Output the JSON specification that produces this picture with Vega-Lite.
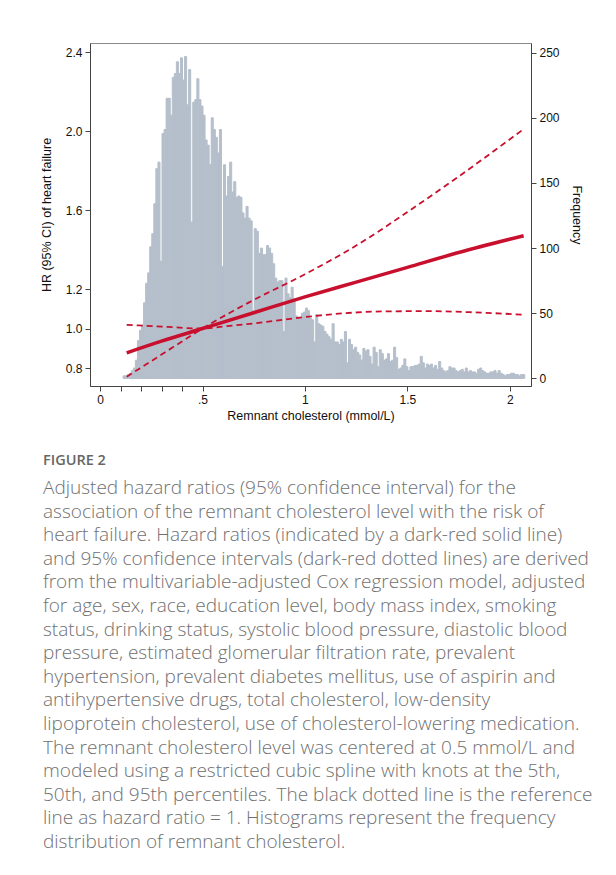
{
  "$schema": "https://vega.github.io/schema/vega-lite/v6.json",
  "width": 441,
  "height": 343,
  "autosize": {"type": "none"},
  "padding": {"left": 90, "top": 43, "right": 85, "bottom": 489},
  "background": "white",
  "config": {
    "font": "Liberation Sans",
    "view": {"stroke": "#8a8a8a", "strokeWidth": 1},
    "axis": {
      "labelFont": "Liberation Sans",
      "titleFont": "Liberation Sans",
      "labelFontSize": 12,
      "titleFontSize": 12.5,
      "titleFontWeight": "normal",
      "labelColor": "#111",
      "titleColor": "#111",
      "domainColor": "#444",
      "tickColor": "#444",
      "grid": false,
      "tickSize": 5
    }
  },
  "title": {
    "text": "FIGURE 2",
    "subtitle": [
      "Adjusted hazard ratios (95% confidence interval) for the",
      "association of the remnant cholesterol level with the risk of",
      "heart failure. Hazard ratios (indicated by a dark-red solid line)",
      "and 95% confidence intervals (dark-red dotted lines) are derived",
      "from the multivariable-adjusted Cox regression model, adjusted",
      "for age, sex, race, education level, body mass index, smoking",
      "status, drinking status, systolic blood pressure, diastolic blood",
      "pressure, estimated glomerular filtration rate, prevalent",
      "hypertension, prevalent diabetes mellitus, use of aspirin and",
      "antihypertensive drugs, total cholesterol, low-density",
      "lipoprotein cholesterol, use of cholesterol-lowering medication.",
      "The remnant cholesterol level was centered at 0.5 mmol/L and",
      "modeled using a restricted cubic spline with knots at the 5th,",
      "50th, and 95th percentiles. The black dotted line is the reference",
      "line as hazard ratio = 1. Histograms represent the frequency",
      "distribution of remnant cholesterol."
    ],
    "orient": "bottom",
    "anchor": "start",
    "frame": "group",
    "dx": -47,
    "offset": 32,
    "font": "Open Sans",
    "fontSize": 14.5,
    "fontWeight": 600,
    "color": "#666666",
    "subtitleFont": "Open Sans",
    "subtitleFontSize": 19,
    "subtitleFontWeight": 300,
    "subtitleColor": "#707070",
    "subtitleLineHeight": 23.6,
    "subtitlePadding": 11
  },
  "datasets": {
    "hist": [
      {"lo":0.11,"hi":0.12,"n":2},{"lo":0.12,"hi":0.13,"n":2},{"lo":0.13,"hi":0.14,"n":3},{"lo":0.14,"hi":0.15,"n":4},{"lo":0.15,"hi":0.16,"n":6},
      {"lo":0.16,"hi":0.17,"n":8},{"lo":0.17,"hi":0.18,"n":14},{"lo":0.18,"hi":0.19,"n":29},{"lo":0.19,"hi":0.2,"n":37},{"lo":0.2,"hi":0.21,"n":41},
      {"lo":0.21,"hi":0.22,"n":58},{"lo":0.22,"hi":0.23,"n":73},{"lo":0.23,"hi":0.24,"n":81},{"lo":0.24,"hi":0.25,"n":101},{"lo":0.25,"hi":0.26,"n":111},
      {"lo":0.26,"hi":0.27,"n":134},{"lo":0.27,"hi":0.28,"n":161},{"lo":0.28,"hi":0.29,"n":166},{"lo":0.29,"hi":0.3,"n":90},{"lo":0.3,"hi":0.31,"n":188},
      {"lo":0.31,"hi":0.32,"n":191},{"lo":0.32,"hi":0.33,"n":215},{"lo":0.33,"hi":0.34,"n":215},{"lo":0.34,"hi":0.35,"n":202},{"lo":0.35,"hi":0.36,"n":231},
      {"lo":0.36,"hi":0.37,"n":234},{"lo":0.37,"hi":0.38,"n":243},{"lo":0.38,"hi":0.39,"n":234},{"lo":0.39,"hi":0.4,"n":246},{"lo":0.4,"hi":0.41,"n":229},
      {"lo":0.41,"hi":0.42,"n":247},{"lo":0.42,"hi":0.43,"n":210},{"lo":0.43,"hi":0.44,"n":237},{"lo":0.44,"hi":0.45,"n":120},{"lo":0.45,"hi":0.46,"n":212},
      {"lo":0.46,"hi":0.47,"n":214},{"lo":0.47,"hi":0.48,"n":230},{"lo":0.48,"hi":0.49,"n":214},{"lo":0.49,"hi":0.5,"n":209},{"lo":0.5,"hi":0.51,"n":202},
      {"lo":0.51,"hi":0.52,"n":183},{"lo":0.52,"hi":0.53,"n":179},{"lo":0.53,"hi":0.54,"n":164},{"lo":0.54,"hi":0.55,"n":200},{"lo":0.55,"hi":0.56,"n":191},
      {"lo":0.56,"hi":0.57,"n":185},{"lo":0.57,"hi":0.58,"n":173},{"lo":0.58,"hi":0.59,"n":191},{"lo":0.59,"hi":0.6,"n":86},{"lo":0.6,"hi":0.61,"n":164},
      {"lo":0.61,"hi":0.62,"n":140},{"lo":0.62,"hi":0.63,"n":155},{"lo":0.63,"hi":0.64,"n":166},{"lo":0.64,"hi":0.65,"n":143},{"lo":0.65,"hi":0.66,"n":151},
      {"lo":0.66,"hi":0.67,"n":139},{"lo":0.67,"hi":0.68,"n":140},{"lo":0.68,"hi":0.69,"n":139},{"lo":0.69,"hi":0.7,"n":127},{"lo":0.7,"hi":0.71,"n":123},
      {"lo":0.71,"hi":0.72,"n":132},{"lo":0.72,"hi":0.73,"n":123},{"lo":0.73,"hi":0.74,"n":121},{"lo":0.74,"hi":0.75,"n":52},{"lo":0.75,"hi":0.76,"n":115},
      {"lo":0.76,"hi":0.77,"n":113},{"lo":0.77,"hi":0.78,"n":96},{"lo":0.78,"hi":0.79,"n":100},{"lo":0.79,"hi":0.8,"n":95},{"lo":0.8,"hi":0.81,"n":95},
      {"lo":0.81,"hi":0.82,"n":102},{"lo":0.82,"hi":0.83,"n":100},{"lo":0.83,"hi":0.84,"n":96},{"lo":0.84,"hi":0.85,"n":88},{"lo":0.85,"hi":0.86,"n":77},
      {"lo":0.86,"hi":0.87,"n":74},{"lo":0.87,"hi":0.88,"n":75},{"lo":0.88,"hi":0.89,"n":75},{"lo":0.89,"hi":0.9,"n":36},{"lo":0.9,"hi":0.91,"n":77},
      {"lo":0.91,"hi":0.92,"n":65},{"lo":0.92,"hi":0.93,"n":62},{"lo":0.93,"hi":0.94,"n":70},{"lo":0.94,"hi":0.95,"n":61},{"lo":0.95,"hi":0.96,"n":48},
      {"lo":0.96,"hi":0.97,"n":47},{"lo":0.97,"hi":0.98,"n":46},{"lo":0.98,"hi":0.99,"n":50},{"lo":0.99,"hi":1.0,"n":51},{"lo":1.0,"hi":1.01,"n":54},
      {"lo":1.01,"hi":1.02,"n":52},{"lo":1.02,"hi":1.03,"n":46},{"lo":1.03,"hi":1.04,"n":45},{"lo":1.04,"hi":1.05,"n":28},{"lo":1.05,"hi":1.06,"n":49},
      {"lo":1.06,"hi":1.07,"n":42},{"lo":1.07,"hi":1.08,"n":41},{"lo":1.08,"hi":1.09,"n":40},{"lo":1.09,"hi":1.1,"n":36},{"lo":1.1,"hi":1.11,"n":34},
      {"lo":1.11,"hi":1.12,"n":32},{"lo":1.12,"hi":1.13,"n":30},{"lo":1.13,"hi":1.14,"n":42},{"lo":1.14,"hi":1.15,"n":28},{"lo":1.15,"hi":1.16,"n":28},
      {"lo":1.16,"hi":1.17,"n":26},{"lo":1.17,"hi":1.18,"n":30},{"lo":1.18,"hi":1.19,"n":28},{"lo":1.19,"hi":1.2,"n":36},{"lo":1.2,"hi":1.21,"n":12},
      {"lo":1.21,"hi":1.22,"n":30},{"lo":1.22,"hi":1.23,"n":26},{"lo":1.23,"hi":1.24,"n":22},{"lo":1.24,"hi":1.25,"n":24},{"lo":1.25,"hi":1.26,"n":20},
      {"lo":1.26,"hi":1.27,"n":18},{"lo":1.27,"hi":1.28,"n":14},{"lo":1.28,"hi":1.29,"n":23},{"lo":1.29,"hi":1.3,"n":21},{"lo":1.3,"hi":1.31,"n":22},
      {"lo":1.31,"hi":1.32,"n":17},{"lo":1.32,"hi":1.33,"n":11},{"lo":1.33,"hi":1.34,"n":24},{"lo":1.34,"hi":1.35,"n":20},{"lo":1.35,"hi":1.36,"n":9},
      {"lo":1.36,"hi":1.37,"n":22},{"lo":1.37,"hi":1.38,"n":19},{"lo":1.38,"hi":1.39,"n":14},{"lo":1.39,"hi":1.4,"n":15},{"lo":1.4,"hi":1.41,"n":19},
      {"lo":1.41,"hi":1.42,"n":13},{"lo":1.42,"hi":1.43,"n":14},{"lo":1.43,"hi":1.44,"n":24},{"lo":1.44,"hi":1.45,"n":16},{"lo":1.45,"hi":1.46,"n":7},
      {"lo":1.46,"hi":1.47,"n":8},{"lo":1.47,"hi":1.48,"n":10},{"lo":1.48,"hi":1.49,"n":15},{"lo":1.49,"hi":1.5,"n":9},{"lo":1.5,"hi":1.51,"n":6},
      {"lo":1.51,"hi":1.52,"n":9},{"lo":1.52,"hi":1.53,"n":9},{"lo":1.53,"hi":1.54,"n":10},{"lo":1.54,"hi":1.55,"n":10},{"lo":1.55,"hi":1.56,"n":11},
      {"lo":1.56,"hi":1.57,"n":17},{"lo":1.57,"hi":1.58,"n":12},{"lo":1.58,"hi":1.59,"n":8},{"lo":1.59,"hi":1.6,"n":11},{"lo":1.6,"hi":1.61,"n":10},
      {"lo":1.61,"hi":1.62,"n":11},{"lo":1.62,"hi":1.63,"n":8},{"lo":1.63,"hi":1.64,"n":10},{"lo":1.64,"hi":1.65,"n":7},{"lo":1.65,"hi":1.66,"n":13},
      {"lo":1.66,"hi":1.67,"n":8},{"lo":1.67,"hi":1.68,"n":6},{"lo":1.68,"hi":1.69,"n":5},{"lo":1.69,"hi":1.7,"n":6},{"lo":1.7,"hi":1.71,"n":9},
      {"lo":1.71,"hi":1.72,"n":8},{"lo":1.72,"hi":1.73,"n":8},{"lo":1.73,"hi":1.74,"n":6},{"lo":1.74,"hi":1.75,"n":5},{"lo":1.75,"hi":1.76,"n":6},
      {"lo":1.76,"hi":1.77,"n":7},{"lo":1.77,"hi":1.78,"n":5},{"lo":1.78,"hi":1.79,"n":8},{"lo":1.79,"hi":1.8,"n":5},{"lo":1.8,"hi":1.81,"n":6},
      {"lo":1.81,"hi":1.82,"n":5},{"lo":1.82,"hi":1.83,"n":5},{"lo":1.83,"hi":1.84,"n":4},{"lo":1.84,"hi":1.85,"n":7},{"lo":1.85,"hi":1.86,"n":8},
      {"lo":1.86,"hi":1.87,"n":6},{"lo":1.87,"hi":1.88,"n":5},{"lo":1.88,"hi":1.89,"n":4},{"lo":1.89,"hi":1.9,"n":4},{"lo":1.9,"hi":1.91,"n":5},
      {"lo":1.91,"hi":1.92,"n":5},{"lo":1.92,"hi":1.93,"n":6},{"lo":1.93,"hi":1.94,"n":4},{"lo":1.94,"hi":1.95,"n":6},{"lo":1.95,"hi":1.96,"n":4},
      {"lo":1.96,"hi":1.97,"n":3},{"lo":1.97,"hi":1.98,"n":2},{"lo":1.98,"hi":1.99,"n":3},{"lo":1.99,"hi":2.0,"n":3},{"lo":2.0,"hi":2.01,"n":4},
      {"lo":2.01,"hi":2.02,"n":4},{"lo":2.02,"hi":2.03,"n":3},{"lo":2.03,"hi":2.04,"n":3},{"lo":2.04,"hi":2.05,"n":2},{"lo":2.05,"hi":2.06,"n":3},
      {"lo":2.06,"hi":2.07,"n":3}
    ],
    "hr": [
      {"x":0.13,"hr":0.877},{"x":0.3,"hr":0.936},{"x":0.5,"hr":1.0},{"x":0.75,"hr":1.08},{"x":1.0,"hr":1.16},
      {"x":1.25,"hr":1.235},{"x":1.5,"hr":1.31},{"x":1.75,"hr":1.385},{"x":2.067,"hr":1.47}
    ],
    "ciA": [
      {"x":0.13,"hr":0.756},{"x":0.3,"hr":0.868},{"x":0.5,"hr":1.0},{"x":0.75,"hr":1.145},{"x":1.0,"hr":1.275},
      {"x":1.25,"hr":1.42},{"x":1.5,"hr":1.59},{"x":1.75,"hr":1.77},{"x":2.067,"hr":2.01}
    ],
    "ciB": [
      {"x":0.13,"hr":1.019},{"x":0.3,"hr":1.01},{"x":0.5,"hr":1.0},{"x":0.6,"hr":1.01},{"x":0.8,"hr":1.032},
      {"x":1.0,"hr":1.058},{"x":1.2,"hr":1.078},{"x":1.4,"hr":1.087},{"x":1.6,"hr":1.088},{"x":1.8,"hr":1.083},{"x":2.067,"hr":1.07}
    ]
  },
  "layer": [
    {
      "data": {"name": "hist"},
      "mark": {"type": "bar", "color": "#b5bfcb", "stroke": "#b5bfcb", "strokeWidth": 1, "orient": "vertical", "binSpacing": 0},
      "encoding": {
        "x": {
          "field": "lo", "type": "quantitative",
          "bin": {"binned": true, "step": 0.01},
          "scale": {"domain": [-0.049, 2.103], "nice": false, "zero": false},
          "axis": {
            "title": "Remnant cholesterol (mmol/L)",
            "values": [0, 0.1, 0.2, 0.3, 0.4, 0.5, 1, 1.5, 2],
            "labelExpr": "datum.value == 0 ? '0' : datum.value == 0.5 ? '.5' : datum.value == 1 ? '1' : datum.value == 1.5 ? '1.5' : datum.value == 2 ? '2' : ''",
            "labelPadding": 3,
            "titlePadding": 4
          }
        },
        "x2": {"field": "hi"},
        "y": {
          "field": "n", "type": "quantitative",
          "scale": {"domain": [-5.8, 257.4], "nice": false, "zero": false},
          "axis": {
            "orient": "right",
            "title": "Frequency",
            "values": [0, 50, 100, 150, 200, 250],
            "titlePadding": 10,
            "labelPadding": 3
          }
        },
        "y2": {"datum": 0}
      }
    },
    {
      "layer": [
        {
          "mark": {"type": "rule", "color": "#555", "strokeWidth": 0.8, "strokeDash": [1.2, 1.2]},
          "encoding": {
            "y": {"datum": 1, "type": "quantitative", "scale": {"domain": [0.709, 2.446], "nice": false, "zero": false},
                  "axis": {"orient": "left", "title": "HR (95% CI) of heart failure", "values": [0.8, 1.0, 1.2, 1.6, 2.0, 2.4], "format": ".1f", "titlePadding": 12, "labelPadding": 3}}
          }
        },
        {
          "mark": {"type": "rule", "color": "#222", "strokeWidth": 0.8, "strokeDash": [1.2, 1.2]},
          "encoding": {
            "x": {"datum": 0.5, "type": "quantitative"},
            "y": {"datum": 1, "type": "quantitative"},
            "y2": {"datum": 0.709}
          }
        },
        {
          "data": {"name": "ciA"},
          "mark": {"type": "line", "color": "#c8102e", "strokeWidth": 1.8, "strokeDash": [6, 4], "interpolate": "monotone"},
          "encoding": {
            "x": {"field": "x", "type": "quantitative"},
            "y": {"field": "hr", "type": "quantitative"}
          }
        },
        {
          "data": {"name": "ciB"},
          "mark": {"type": "line", "color": "#c8102e", "strokeWidth": 1.8, "strokeDash": [6, 4], "interpolate": "monotone"},
          "encoding": {
            "x": {"field": "x", "type": "quantitative"},
            "y": {"field": "hr", "type": "quantitative"}
          }
        },
        {
          "data": {"name": "hr"},
          "mark": {"type": "line", "color": "#c8102e", "strokeWidth": 3.5, "interpolate": "monotone"},
          "encoding": {
            "x": {"field": "x", "type": "quantitative"},
            "y": {"field": "hr", "type": "quantitative"}
          }
        }
      ]
    }
  ],
  "resolve": {"scale": {"y": "independent"}, "axis": {"y": "independent"}}
}
